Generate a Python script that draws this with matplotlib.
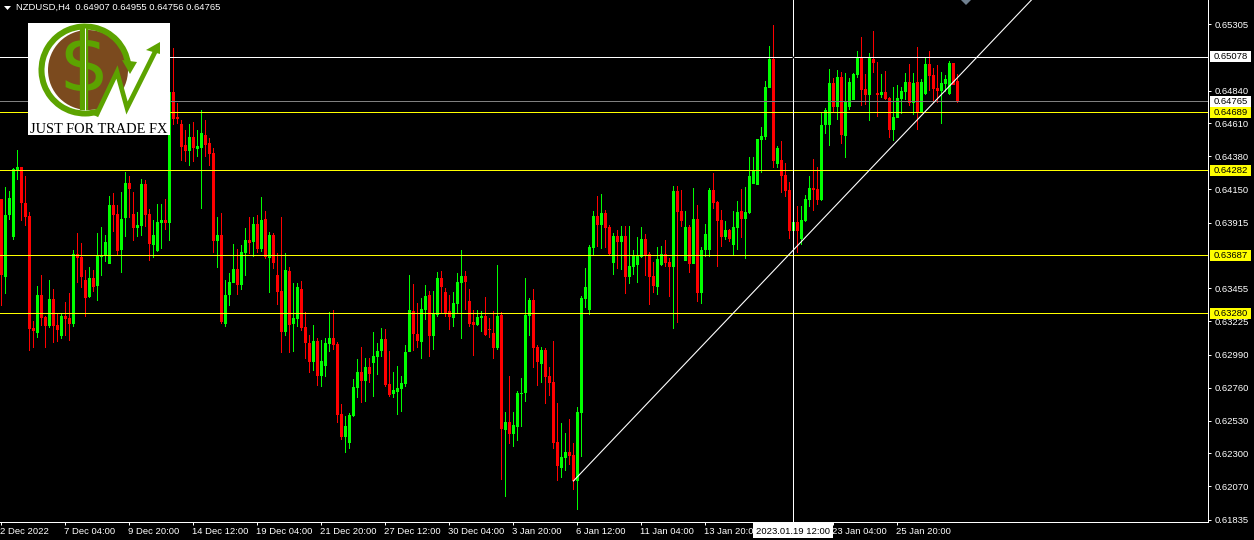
import numpy as np
import matplotlib
matplotlib.use("Agg")
import matplotlib.pyplot as plt
from matplotlib.patches import Rectangle, Circle, Wedge, Polygon
from matplotlib.transforms import ScaledTranslation

# NZDUSD H4 candles, in points (1e-5)
opens = [64081,63535,63969,63815,64284,64305,64053,63962,63178,63143,
         63409,63255,63192,63381,63199,63122,63262,63248,63206,63696,
         63675,63514,63395,63528,63472,63675,63682,63626,64039,63976,
         63724,63948,64193,63976,63878,63892,64186,63976,63759,63717,
         63913,63934,63913,64830,64655,64606,64459,64417,64515,64431,
         64438,64529,64473,64403,63787,63829,63206,63409,63493,63591,
         63479,63703,63794,63780,63906,63731,63941,63668,63829,63549,
         63437,63150,63577,63206,63241,63451,63185,63073,62940,63087,
         62842,62912,63066,63108,63066,62576,62415,62373,62562,62758,
         62870,62807,62905,62933,62975,63017,63101,62786,62716,62730,
         62751,62786,63010,63297,63136,63080,63304,63409,63122,63269,
         63528,63430,63297,63248,63346,63493,63542,63367,63220,63199,
         63248,63262,63171,63143,63038,63269,62464,62520,62436,62485,
         62716,62723,63262,63374,63045,62926,63024,62842,62800,62380,
         62198,62268,62310,62289,62107,62583,63381,63304,63738,63962,
         63899,63983,63885,63633,63822,63780,63822,63535,63605,63619,
         63675,63801,63696,63542,63465,63619,63696,63640,63605,64137,
         63997,63647,63885,63626,63941,63423,63724,63724,64144,64060,
         63934,63815,63864,63759,63878,63997,63941,63983,64186,64179,
         64494,64515,64858,65061,64326,64354,64249,64144,63857,63920,
         63801,63927,64074,64158,64151,64074,64599,64599,64893,64725,
         64935,64522,64725,64774,64949,65075,64851,64809,65061,64823,
         64809,64830,64788,64564,64648,64781,64830,64900,64753,64900,
         64690,64816,65026,64949,64858,64837,64886,64816,65033,64907]
closes = [63549,63969,64088,64291,64305,64053,63955,63171,63157,63409,
          63248,63192,63381,63192,63164,63262,63241,63206,63696,63668,
          63535,63388,63528,63465,63682,63682,63780,64039,63969,63717,
          63941,64193,64151,63878,63899,64186,63969,63766,63829,63920,
          63934,63913,64830,64641,64641,64445,64417,64515,64438,64452,
          64543,64459,64396,63787,63829,63220,63409,63500,63591,63479,
          63710,63794,63773,63906,63731,63934,63675,63829,63633,63430,
          63150,63584,63199,63248,63465,63178,63073,62940,63087,62842,
          62947,63073,63108,63059,62569,62415,62492,62569,62765,62870,
          62807,62905,62856,62982,63017,63101,62779,62709,62744,62758,
          62793,63010,63304,63136,63087,63311,63402,63122,63283,63528,
          63465,63283,63255,63353,63500,63542,63500,63206,63199,63255,
          63262,63129,63164,63038,63262,62471,62520,62436,62499,62723,
          62723,63269,63374,63038,62940,63024,62835,62793,62373,62212,
          62275,62310,62282,62107,62590,63388,63465,63745,63962,63899,
          63983,63878,63696,63822,63780,63822,63535,63612,63682,63682,
          63801,63682,63535,63472,63661,63696,63633,63605,64137,63990,
          63927,63885,63626,63941,63423,63724,63836,64144,64053,63927,
          63815,63864,63801,63885,63990,63941,63990,64242,64277,64501,
          64522,64865,65061,64347,64438,64242,64137,63857,63920,63857,
          63934,64081,64158,64144,64074,64599,64704,64893,64725,64935,
          64529,64767,64900,64956,65075,64844,64809,65068,65033,64809,
          64830,64781,64564,64655,64788,64837,64900,64753,64893,64690,
          64900,65026,64942,64851,64837,64893,64921,65033,64879,64765]
highs = [64081,64165,64137,64298,64424,64305,64242,63990,63227,63472,
         63549,63262,63514,63451,63283,63283,63360,63423,63724,63843,
         63773,63584,63605,63584,63843,63885,63829,64102,64123,64039,
         64130,64270,64242,64130,63990,64221,64214,64011,63934,64046,
         64046,64081,65054,65138,64753,64634,64564,64606,64620,64564,
         64704,64634,64508,64438,63955,63983,63514,63563,63766,63731,
         63759,63878,63955,63955,63969,64095,63997,63850,63843,63703,
         63955,63703,63605,63493,63493,63507,63290,63129,63199,63108,
         63094,63108,63290,63304,63080,62646,62562,62583,62821,62961,
         63045,62968,62968,63150,63073,63178,63171,63017,62870,62912,
         62842,63059,63549,63486,63353,63388,63479,63437,63437,63570,
         63577,63458,63409,63430,63563,63724,63577,63451,63304,63304,
         63297,63395,63248,63297,63619,63290,62590,62842,62590,62737,
         62828,63528,63388,63451,63059,63045,63038,62905,63087,62653,
         62513,62443,62541,62373,62625,63402,63598,63759,63997,64102,
         64116,64004,63899,63843,63864,63892,63892,63892,63724,63815,
         63885,63836,63710,63640,63745,63752,63794,63668,64172,64172,
         64144,63997,63899,64158,64039,63745,63906,64158,64263,64067,
         64004,63927,63871,63997,64067,64151,64165,64375,64375,64501,
         64585,64907,65152,65299,64452,64487,64333,64200,63920,64032,
         64032,64109,64242,64361,64305,64683,64718,64991,64928,64984,
         64970,64963,64928,64963,65117,65215,64956,65103,65257,65040,
         64956,64977,64795,64865,64879,64865,64963,65026,64963,65145,
         64921,65068,65117,64998,65019,64970,64949,65047,65033,64955]
lows = [63332,63416,63934,63794,64214,63927,63892,63017,63038,63108,
        63192,63038,63178,63073,63080,63101,63122,63087,63185,63493,
        63458,63255,63388,63430,63367,63542,63640,63626,63850,63689,
        63563,63815,63948,63787,63815,63822,63885,63647,63668,63710,
        63731,63864,63787,64599,64606,64347,64340,64312,64340,64375,
        64011,64375,64312,63703,63598,63206,63185,63332,63493,63409,
        63444,63542,63696,63675,63703,63710,63661,63423,63591,63339,
        63003,63122,63003,63010,63185,63157,62961,62863,62877,62772,
        62765,62835,63010,63024,62513,62394,62303,62331,62555,62688,
        62653,62660,62793,62695,62849,62975,62765,62695,62688,62569,
        62590,62765,63010,63017,63038,62961,63234,62975,63024,63255,
        63283,63255,63164,63185,63283,63101,63304,63185,62982,63192,
        63150,63122,63108,62961,63024,62114,61995,62366,62345,62387,
        62485,62660,63122,62898,62772,62793,62646,62702,62331,62107,
        62128,62177,62219,62044,61904,62275,63318,63269,63689,63745,
        63731,63738,63689,63549,63591,63584,63416,63486,63549,63493,
        63668,63542,63339,63423,63409,63612,63605,63395,63171,63213,
        63885,63647,63563,63626,63360,63346,63675,63675,64011,63605,
        63745,63794,63780,63682,63724,63808,63661,63976,64186,64179,
        64263,64494,64858,64298,64298,64123,64095,63801,63857,63703,
        63759,63920,64025,63997,64039,64067,64536,64452,64690,64634,
        64466,64368,64704,64774,64928,64732,64739,64627,64963,64655,
        64788,64774,64508,64487,64648,64676,64774,64732,64669,64564,
        64683,64809,64837,64753,64753,64606,64830,64809,64879,64756]

white_level = 0.65078
bid_level = 0.64765
yellow_levels = [0.64689, 0.64282, 0.63687, 0.63280]
price_ticks = [0.65305, 0.64840, 0.64610, 0.64380, 0.64150, 0.63915, 0.63455,
               0.63225, 0.62990, 0.62760, 0.62530, 0.62300, 0.62070, 0.61835]
date_ticks = [0, 16, 32, 48, 64, 80, 96, 112, 128, 144, 160, 176, 192, 208, 224]
date_labels = ["2 Dec 2022", "7 Dec 04:00", "9 Dec 20:00", "14 Dec 12:00", "19 Dec 04:00",
               "21 Dec 20:00", "27 Dec 12:00", "30 Dec 04:00", "3 Jan 20:00", "6 Jan 12:00",
               "11 Jan 04:00", "13 Jan 20:00", "", "23 Jan 04:00", "25 Jan 20:00"]
trend_bars = [143, 257.5]
trend_prices = [0.62107, 0.65474]
cross_bar = 198
fs = 6.8

o = np.array(opens) / 1e5
c = np.array(closes) / 1e5
h = np.array(highs) / 1e5
l = np.array(lows) / 1e5
idx = np.arange(len(o))
colors = np.where(c >= o, "#00ff00", "#ff0000")

plt.rcParams["font.family"] = ["Liberation Sans", "DejaVu Sans"]
fig = plt.figure(figsize=(12.54, 5.4), dpi=100, facecolor="black")
ax = fig.add_axes([0, 18 / 540, 1208 / 1254, 522 / 540], facecolor="black")
# bar 0 a bit under pixel 1.5 so the wick snaps to the middle of the body
ax.set_xlim(-0.35, 301.65)
ax.set_ylim(0.6182, 0.65474)

# wicks as thin bars, they come out crisper than vlines
ax.bar(idx, h - l, bottom=l, width=0.25, color=colors, linewidth=0, zorder=2)
ax.bar(idx, np.abs(c - o), bottom=np.minimum(o, c), width=0.75, color=colors, linewidth=0, zorder=3)

# levels sit on top of the candles
ax.axhline(white_level, color="white", lw=0.72, zorder=4)
ax.axhline(bid_level, color="#808080", lw=0.72, zorder=4)
for lev in yellow_levels:
    ax.axhline(lev, color="#ffff00", lw=0.72, zorder=4)
ax.plot(trend_bars, trend_prices, color="white", lw=0.8, zorder=4)
ax.axvline(cross_bar, color="white", lw=0.72, zorder=4)
ax.plot([cross_bar], [white_level], marker="s", ms=1.4, color="black", mew=0, zorder=5)
ax.plot([241.1], [0.65474], marker="D", ms=5.2, color="#708090", mew=0, zorder=4)

for s in ["top", "left"]:
    ax.spines[s].set_visible(False)
ax.spines["right"].set_color("white")
ax.spines["bottom"].set_color("white")
ax.spines["right"].set_linewidth(0.72)
ax.spines["bottom"].set_linewidth(0.72)

ax.yaxis.tick_right()
ax.set_yticks(price_ticks)
ax.set_yticklabels(["%.5f" % p for p in price_ticks])
ax.set_xticks(date_ticks)
ax.set_xticklabels(date_labels, ha="left")
ax.tick_params(axis="y", colors="white", length=2.2, width=0.72, labelsize=fs, pad=2.8)
ax.tick_params(axis="x", colors="white", length=2.2, width=0.72, labelsize=fs, pad=1.5)
for lab in ax.get_xticklabels():
    lab.set_transform(lab.get_transform() + ScaledTranslation(-1 / 100, 0, fig.dpi_scale_trans))

# price tags on the right scale
ytrans = ax.get_yaxis_transform()
tags = [(white_level, "white"), (bid_level, "white"), (yellow_levels[0], "#ffff00"),
        (yellow_levels[1], "#ffff00"), (yellow_levels[2], "#ffff00"), (yellow_levels[3], "#ffff00")]
for price, col in tags:
    ax.add_patch(Rectangle((1210 / 1208, price - 0.00038), 41 / 1208, 0.00076, transform=ytrans,
                           facecolor=col, edgecolor="none", clip_on=False, zorder=6))
    ax.text(1230.5 / 1208, price, "%.5f" % price, transform=ytrans, color="black", fontsize=fs,
            ha="center", va="center", clip_on=False, zorder=7)

# crosshair time box
xtrans = ax.get_xaxis_transform()
ax.add_patch(Rectangle((cross_bar - 10, -16 / 522), 20, 15.5 / 522, transform=xtrans, facecolor="white",
                       edgecolor="none", clip_on=False, zorder=6))
ax.text(cross_bar, -9 / 522, "2023.01.19 12:00", transform=xtrans, color="black", fontsize=fs,
        ha="center", va="center", clip_on=False, zorder=7)

# header
fig.text(16 / 1254, 1 - 7 / 540, "NZDUSD,H4  0.64907 0.64955 0.64756 0.64765", color="white",
         fontsize=fs, ha="left", va="center")
fig.add_artist(Polygon([[4 / 1254, 1 - 6 / 540], [11 / 1254, 1 - 6 / 540], [7.5 / 1254, 1 - 10 / 540]],
                       transform=fig.transFigure, facecolor="white", edgecolor="none"))

# logo
logo = fig.add_axes([28 / 1254, 1 - 135 / 540, 142 / 1254, 112 / 540], facecolor="white", zorder=10)
logo.set_xlim(28, 170)
logo.set_ylim(135, 23)
logo.set_xticks([])
logo.set_yticks([])
for s in logo.spines.values():
    s.set_visible(False)
green = "#5ca300"
logo.add_patch(Circle((88, 70), 40, facecolor="#7b4a1e", edgecolor="none", zorder=1))
logo.add_patch(Polygon([[97, 116], [117, 72], [127, 112]], facecolor="white", edgecolor="none", zorder=2))
logo.add_patch(Wedge((85, 70), 46.5, 72, 352, width=6, facecolor=green, edgecolor="none", zorder=3))
logo.add_patch(Polygon([[122, 60], [137, 62], [130, 74]], facecolor=green, edgecolor="none", zorder=4))
logo.text(84, 69, "\\$", color=green, fontsize=57, family="DejaVu Sans", ha="center", va="center", zorder=6)
logo.plot([84, 84], [28, 110], color=green, lw=6, solid_capstyle="butt", zorder=5)
logo.plot([84.5, 84.5], [28, 110], color="white", lw=0.7, solid_capstyle="butt", zorder=7)
logo.plot([97, 117, 127, 156], [114, 72, 108, 50], color=green, lw=3.4, solid_joinstyle="miter", zorder=8)
logo.add_patch(Polygon([[146, 50], [160, 42], [160, 54]], facecolor=green, edgecolor="none", zorder=8))
logo.text(99, 129.5, "JUST FOR TRADE FX", color="black", fontsize=10.4, family="Liberation Serif",
          ha="center", va="center", zorder=9)

fig.savefig("out.png", dpi=100, facecolor="black")
